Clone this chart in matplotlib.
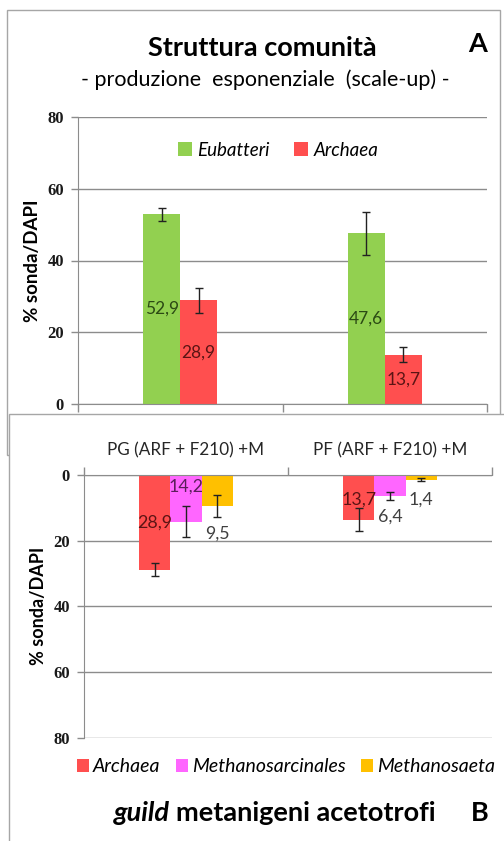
import matplotlib
matplotlib.use("Agg")
import matplotlib.pyplot as plt
from matplotlib.patches import Rectangle
import numpy as np

# ---------------- data ----------------
top_groups = ["gruppo 1", "gruppo 2"]
eubatteri = [52.9, 47.6]
eubatteri_err = [1.8, 6.0]
archaea_top = [28.9, 13.7]
archaea_top_err = [3.4, 2.1]

bottom_groups = ["PG (ARF + F210) +M", "PF (ARF + F210) +M"]
archaea = [28.9, 13.7]
archaea_err = [2.0, 3.5]
methanosarcinales = [14.2, 6.4]
methanosarcinales_err = [4.8, 1.3]
methanosaeta = [9.5, 1.4]
methanosaeta_err = [3.3, 0.5]

yticks = [0, 20, 40, 60, 80]

# ---------------- style ----------------
FONT = ["Lato", "DejaVu Sans"]
SERIF = ["Liberation Serif", "DejaVu Serif"]
GREEN = "#92D050"
RED = "#FF4F4F"
MAGENTA = "#FF66FF"
ORANGE = "#FFC000"
GRID = "#8c8c8c"
plt.rcParams["font.family"] = FONT

W, H = 504, 841
fig = plt.figure(figsize=(W / 100, H / 100), dpi=100)

def fx(px):
    return px / W

def fy(py):
    return 1 - py / H

# panel frames
fig.patches.append(Rectangle((fx(7), fy(455)), fx(500) - fx(7), fy(10) - fy(455),
                             transform=fig.transFigure, facecolor="white",
                             edgecolor="#a6a6a6", lw=1.0, zorder=-3))
fig.patches.append(Rectangle((fx(9), fy(850)), fx(520) - fx(9), fy(414) - fy(850),
                             transform=fig.transFigure, facecolor="white",
                             edgecolor="#a6a6a6", lw=1.0, zorder=-2))

def fmt(v):
    return f"{v:.1f}".replace(".", ",")

def style_axes(ax, label_fs):
    ax.set_facecolor("none")
    ax.set_yticks(yticks)
    ax.set_yticklabels([str(t) for t in yticks], fontfamily=SERIF, fontweight="bold",
                       fontsize=12, color="#1a1a1a")
    ax.tick_params(axis="y", length=5, color=GRID, width=1, pad=5)
    ax.grid(axis="y", color=GRID, lw=1)
    ax.set_axisbelow(True)
    ax.spines["right"].set_visible(False)
    ax.spines["left"].set_color(GRID)
    ax.set_xlim(-0.5, 1.5)
    ax.set_xticks([-0.5, 0.5, 1.5])
    ax.set_xticklabels([])
    ax.set_ylabel("% sonda/DAPI", fontsize=label_fs, fontweight="bold", labelpad=5)

# ---------------- top panel ----------------
axA = fig.add_axes([fx(78), fy(404), fx(487) - fx(78), fy(117) - fy(404)])
style_axes(axA, 13.5)
axA.set_ylim(0, 80)
axA.spines["top"].set_visible(False)
axA.spines["bottom"].set_color(GRID)
axA.tick_params(axis="x", length=6, color=GRID, width=1, direction="out")

x = np.arange(len(top_groups))
bw = 0.181
ek = dict(ecolor="#222222", elinewidth=1, capsize=3, capthick=1)
axA.bar(x - bw / 2, eubatteri, bw, color=GREEN, yerr=eubatteri_err, error_kw=ek,
        label="Eubatteri")
axA.bar(x + bw / 2, archaea_top, bw, color=RED, yerr=archaea_top_err, error_kw=ek,
        label="Archaea")
for xi, v in zip(x - bw / 2, eubatteri):
    axA.text(xi, v / 2, fmt(v), ha="center", va="center", fontsize=12.5, color="#2b4a14")
for xi, v in zip(x + bw / 2, archaea_top):
    axA.text(xi, v / 2, fmt(v), ha="center", va="center", fontsize=12.5, color="#5c1414")

axA.legend(loc="center", bbox_to_anchor=(0.49, 0.885), ncol=2, frameon=False,
           prop=dict(family=FONT, style="italic", size=13.5),
           handlelength=0.75, handleheight=0.75, handletextpad=0.3,
           columnspacing=1.3)

fig.text(fx(262), fy(48), "Struttura comunità", ha="center", va="center",
         fontsize=19.5, fontweight="bold")
fig.text(fx(265), fy(80), "- produzione  esponenziale  (scale-up) -", ha="center",
         va="center", fontsize=15.5)
fig.text(fx(478), fy(44), "A", ha="center", va="center", fontsize=19.5, fontweight="bold")

# ---------------- bottom panel ----------------
axB = fig.add_axes([fx(84), fy(737.7), fx(492) - fx(84), fy(475) - fy(737.7)])
style_axes(axB, 13)
axB.set_ylim(80, 0)
axB.spines["bottom"].set_visible(False)
axB.spines["top"].set_color(GRID)
axB.xaxis.tick_top()
axB.tick_params(axis="x", length=6, color=GRID, width=1, direction="out", top=True,
                bottom=False)
for xi, lab in zip(range(len(bottom_groups)), bottom_groups):
    axB.text(xi, -7.6, lab, ha="center", va="center", fontsize=12.3, color="#262626")

bw2 = 0.152
xb = np.arange(len(bottom_groups))
axB.bar(xb - bw2, archaea, bw2, color=RED, yerr=archaea_err, error_kw=ek, label="Archaea")
axB.bar(xb, methanosarcinales, bw2, color=MAGENTA, yerr=methanosarcinales_err,
        error_kw=ek, label="Methanosarcinales")
axB.bar(xb + bw2, methanosaeta, bw2, color=ORANGE, yerr=methanosaeta_err, error_kw=ek,
        label="Methanosaeta")

# data labels (positions follow Excel's placement in the original)
lab_fs = 12.8
axB.text(xb[0] - bw2, archaea[0] / 2, fmt(archaea[0]), ha="center", va="center",
         fontsize=lab_fs, color="#5c1414")
axB.text(xb[1] - bw2, archaea[1] / 2 + 0.5, fmt(archaea[1]), ha="center", va="center",
         fontsize=lab_fs, color="#5c1414")
axB.text(xb[0], 3.4, fmt(methanosarcinales[0]), ha="center", va="center",
         fontsize=lab_fs, color="#5c1e5c")
axB.text(xb[1], methanosarcinales[1] + 6.3, fmt(methanosarcinales[1]), ha="center",
         va="center", fontsize=lab_fs, color="#404040")
axB.text(xb[0] + bw2, methanosaeta[0] + 8.3, fmt(methanosaeta[0]), ha="center",
         va="center", fontsize=lab_fs, color="#404040")
axB.text(xb[1] + bw2, methanosaeta[1] + 6.2, fmt(methanosaeta[1]), ha="center",
         va="center", fontsize=lab_fs, color="#404040")

handles, labels = axB.get_legend_handles_labels()
fig.legend(handles, labels, loc="center", bbox_to_anchor=(fx(286), fy(767)), ncol=3,
           frameon=False, prop=dict(family=FONT, style="italic", size=14),
           handlelength=0.62, handleheight=0.62, handletextpad=0.2, columnspacing=0.8,
           borderpad=0.2)

# bottom title: mixed italic / upright, laid out as one line
renderer = fig.canvas.get_renderer()
t1 = fig.text(0, fy(813), "guild ", ha="left", va="center", fontsize=19.5,
              fontweight="bold", style="italic")
t2 = fig.text(0, fy(813), "metanigeni acetotrofi", ha="left", va="center",
              fontsize=19.5, fontweight="bold")
w1 = t1.get_window_extent(renderer).width
w2 = t2.get_window_extent(renderer).width
x0 = 275 - (w1 + w2) / 2
t1.set_x(fx(x0))
t2.set_x(fx(x0 + w1))
fig.text(fx(480), fy(813), "B", ha="center", va="center", fontsize=19.5, fontweight="bold")

fig.savefig("out.png", dpi=100)
